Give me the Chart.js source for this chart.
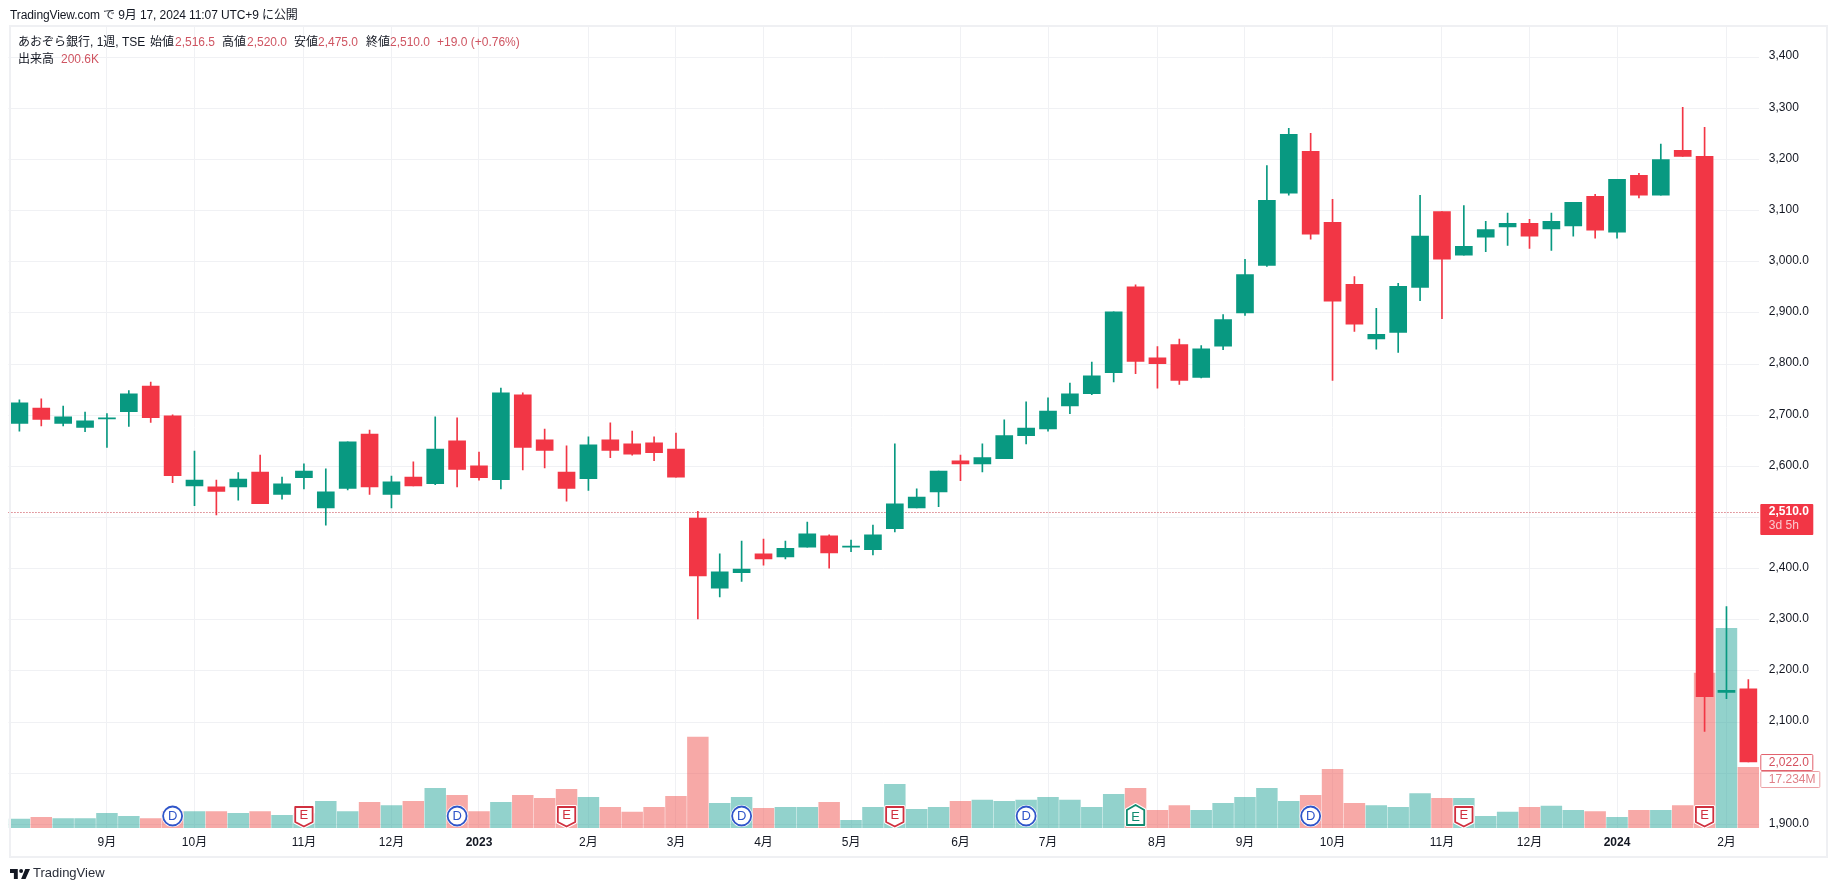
<!DOCTYPE html>
<html lang="ja">
<head>
<meta charset="utf-8">
<script src="https://cdn.jsdelivr.net/npm/chart.js@4/dist/chart.umd.min.js"></script>
<style>
html,body{margin:0;padding:0;background:#fff;width:1835px;height:891px;overflow:hidden;font-family:'Liberation Sans','Noto Sans CJK JP',sans-serif;color:#131722;}
#c{position:absolute;left:0;top:0;}
#frame{position:absolute;left:8.5px;top:25px;width:1815px;height:829px;border:2px solid #eff0f3;pointer-events:none;}
.t{position:absolute;font-size:12px;line-height:14px;white-space:pre;}
.v{color:#cf5562;}
#logo{position:absolute;left:10px;top:867px;width:20px;height:14px;}
</style>
</head>
<body>
<canvas id="c" width="1835" height="891"></canvas>
<div id="frame"></div>
<div class="t" style="left:10px;top:8px;letter-spacing:-0.1px">TradingView.com で 9月 17, 2024 11:07 UTC+9 に公開</div>
<div class="t" style="left:18px;top:35px">あおぞら銀行, 1週, TSE</div>
<div class="t" style="left:150px;top:35px">始値</div><div class="t v" style="left:175px;top:35px">2,516.5</div>
<div class="t" style="left:222px;top:35px">高値</div><div class="t v" style="left:247px;top:35px">2,520.0</div>
<div class="t" style="left:294px;top:35px">安値</div><div class="t v" style="left:318px;top:35px">2,475.0</div>
<div class="t" style="left:366px;top:35px">終値</div><div class="t v" style="left:390px;top:35px">2,510.0</div>
<div class="t v" style="left:437px;top:35px">+19.0 (+0.76%)</div>
<div class="t" style="left:18px;top:52px">出来高</div><div class="t v" style="left:61px;top:52px">200.6K</div>
<svg id="logo" viewBox="0 0 36 24"><path fill="#131722" d="M14 3H0v7h7v11h7V3Zm14 18h-8l7.5-18H36l-8 18Zm-8-11a3.5 3.5 0 1 0 0-7 3.5 3.5 0 0 0 0 7Z"/></svg>
<div class="t" style="left:33px;top:866px;font-size:13px;color:#2a2e39">TradingView</div>
<script>
const weeks = ['2022-08-08','2022-08-15','2022-08-22','2022-08-29','2022-09-05','2022-09-12','2022-09-19','2022-09-26','2022-10-03','2022-10-10','2022-10-17','2022-10-24','2022-10-31','2022-11-07','2022-11-14','2022-11-21','2022-11-28','2022-12-05','2022-12-12','2022-12-19','2022-12-26','2023-01-02','2023-01-09','2023-01-16','2023-01-23','2023-01-30','2023-02-06','2023-02-13','2023-02-20','2023-02-27','2023-03-06','2023-03-13','2023-03-20','2023-03-27','2023-04-03','2023-04-10','2023-04-17','2023-04-24','2023-05-01','2023-05-08','2023-05-15','2023-05-22','2023-05-29','2023-06-05','2023-06-12','2023-06-19','2023-06-26','2023-07-03','2023-07-10','2023-07-17','2023-07-24','2023-07-31','2023-08-07','2023-08-14','2023-08-21','2023-08-28','2023-09-04','2023-09-11','2023-09-18','2023-09-25','2023-10-02','2023-10-09','2023-10-16','2023-10-23','2023-10-30','2023-11-06','2023-11-13','2023-11-20','2023-11-27','2023-12-04','2023-12-11','2023-12-18','2023-12-25','2024-01-01','2024-01-08','2024-01-15','2024-01-22','2024-01-29','2024-02-05','2024-02-12'];
const opens = [2684,2714,2684,2676,2693,2707,2757,2699,2562,2560,2560,2589,2545,2578,2519,2557,2663,2545,2579,2566,2650,2601,2574,2740,2652,2589,2576,2652,2644,2646,2634,2499,2362,2392,2429,2423,2442,2464,2442,2437,2478,2519,2550,2611,2605,2615,2660,2673,2718,2742,2783,2951,2812,2838,2774,2835,2900,2993,3134,3216,3077,2956,2849,2862,2950,3098,3013,3048,3068,3075,3064,3070,3128,3058,3169,3130,3218,3206,2158,2165];
const highs = [2730,2732,2718,2706,2703,2748,2765,2701,2630,2573,2588,2622,2579,2605,2595,2648,2671,2581,2609,2697,2695,2628,2753,2744,2673,2640,2658,2685,2669,2658,2665,2512,2429,2454,2458,2454,2491,2466,2456,2485,2644,2556,2591,2622,2644,2691,2726,2734,2763,2804,2902,2955,2834,2849,2836,2897,3005,3188,3261,3251,3122,2971,2909,2958,3130,3098,3110,3079,3095,3083,3095,3116,3132,3161,3173,3230,3302,3263,2326,2183];
const lows = [2669,2679,2679,2668,2637,2678,2686,2568,2523,2505,2534,2527,2536,2556,2485,2554,2545,2519,2562,2564,2560,2573,2556,2593,2597,2532,2553,2617,2622,2611,2579,2302,2345,2375,2407,2419,2442,2401,2433,2427,2472,2519,2521,2572,2589,2615,2644,2669,2703,2740,2765,2781,2753,2760,2773,2828,2895,2991,3130,3044,2768,2864,2829,2823,2924,2889,3013,3020,3032,3026,3022,3050,3046,3046,3125,3130,3206,2082,2146,2022];
const closes = [2724,2692,2697,2689,2695,2742,2695,2582,2573,2551,2575,2527,2566,2591,2550,2648,2560,2570,2562,2634,2594,2578,2744,2637,2631,2557,2642,2631,2624,2627,2579,2386,2394,2399,2419,2440,2468,2431,2444,2466,2527,2540,2591,2605,2617,2660,2675,2708,2742,2777,2902,2805,2801,2768,2830,2887,2975,3120,3249,3054,2923,2878,2858,2952,3050,3005,3030,3063,3075,3050,3079,3116,3062,3161,3130,3200,3206,2150,2162,2022];
const volumes = [2.5,3.0,2.7,2.7,4.2,3.3,2.7,4.7,4.7,4.7,4.2,4.7,3.6,4.1,7.6,4.7,7.3,6.4,7.6,11.3,9.3,4.7,7.3,9.3,8.4,11.0,8.7,5.9,4.5,5.9,9.0,25.8,7.0,8.7,5.6,5.9,5.9,7.3,2.2,5.9,12.4,5.3,5.9,7.6,7.9,7.6,7.9,8.7,7.9,5.9,9.6,11.3,5.0,6.4,5.0,7.0,8.7,11.3,7.6,9.3,16.7,7.0,6.4,5.9,9.8,8.4,8.4,3.3,4.5,5.9,6.2,5.0,4.7,3.0,5.0,5.0,6.4,44.0,56.7,17.234];
const monthWeeks = [4,8,13,17,21,26,30,34,38,43,47,52,56,60,65,69,73,78];
const monthLabels = ['9月','10月','11月','12月','2023','2月','3月','4月','5月','6月','7月','8月','9月','10月','11月','12月','2024','2月'];
const priceTicks = [3400,3300,3200,3100,3000,2900,2800,2700,2600,2500,2400,2300,2200,2100,2000,1900];
const priceLabels = ['3,400','3,300','3,200','3,100','3,000.0','2,900.0','2,800.0','2,700.0','2,600.0','2,500.0','2,400.0','2,300.0','2,200.0','2,100.0','2,000.0','1,900.0'];
const dividendWeeks = [7,20,33,46,59];
const earningsMissWeeks = [13,25,40,66,77];
const earningsBeatWeeks = [51];
const lastPrice = 2510, cursorPrice = 2022;

const UP='#089981', DOWN='#F23645', VUP='rgba(38,166,154,0.5)', VDOWN='rgba(239,83,80,0.5)';
const FONT="'Liberation Sans','Noto Sans CJK JP',sans-serif";
const isUp = i => closes[i] >= opens[i];
const candleColors = weeks.map((_,i)=> isUp(i)?UP:DOWN);
const volColors = weeks.map((_,i)=> isUp(i)?VUP:VDOWN);

function roundRect(ctx,x,y,w,h,r){ctx.beginPath();ctx.roundRect(x,y,w,h,r);}

const overlay = {
  id:'overlay',
  beforeDatasetsDraw(chart){
    const {ctx,chartArea:a,scales:{y}}=chart;
    ctx.save();
    ctx.strokeStyle='#c8404c';ctx.lineWidth=1;ctx.setLineDash([1,2]);
    const py=Math.round(y.getPixelForValue(lastPrice))+0.5;
    ctx.beginPath();ctx.moveTo(a.left,py);ctx.lineTo(a.right,py);ctx.stroke();
    ctx.restore();
  },
  afterDatasetsDraw(chart){
    const {ctx,chartArea:a,scales:{x}}=chart;
    const cy=a.bottom-12;
    ctx.save();
    ctx.textAlign='center';ctx.textBaseline='middle';
    const blue='#2f55c9',red='#d0303f',green='#0f8a6f';
    dividendWeeks.forEach(i=>{
      const px=x.getPixelForValue(i);
      ctx.beginPath();ctx.arc(px,cy,11,0,7);ctx.fillStyle='#fff';ctx.fill();
      ctx.beginPath();ctx.arc(px,cy,9.5,0,7);ctx.strokeStyle=blue;ctx.lineWidth=1.8;ctx.stroke();
      ctx.fillStyle=blue;ctx.font='13px '+FONT;ctx.fillText('D',px,cy+0.5);
    });
    const shield=(px,down,col)=>{
      const w=8.7,pts=down
        ?[[-w,-9],[w,-9],[w,6],[0,10.5],[-w,6]]
        :[[0,-11],[w,-6],[w,9],[-w,9],[-w,-6]];
      const path=()=>{ctx.beginPath();pts.forEach((p,k)=>k?ctx.lineTo(px+p[0],cy+p[1]):ctx.moveTo(px+p[0],cy+p[1]));ctx.closePath();};
      path();ctx.lineJoin='round';ctx.strokeStyle='#fff';ctx.lineWidth=4;ctx.stroke();ctx.fillStyle='#fff';ctx.fill();
      path();ctx.strokeStyle=col;ctx.lineWidth=1.8;ctx.stroke();
      ctx.fillStyle=col;ctx.font='13px '+FONT;ctx.fillText('E',px,cy+(down?-0.5:1));
    };
    earningsMissWeeks.forEach(i=>shield(x.getPixelForValue(i),true,red));
    earningsBeatWeeks.forEach(i=>shield(x.getPixelForValue(i),false,green));
    ctx.restore();
  },
  afterDraw(chart){
    const {ctx,chartArea:a,scales:{y}}=chart;
    ctx.save();
    ctx.textBaseline='middle';ctx.textAlign='left';
    const L=a.right+1, W=53, tx=a.right+9.5;
    const py=y.getPixelForValue(lastPrice);
    ctx.fillStyle=DOWN;roundRect(ctx,L,py-8.5,W,31,1);ctx.fill();
    ctx.font='bold 12px '+FONT;ctx.fillStyle='#fff';ctx.fillText('2,510.0',tx,py-0.5);
    ctx.font='12px '+FONT;ctx.fillStyle='#fbc9ce';ctx.fillText('3d 5h',tx,py+13.5);
    const cp=y.getPixelForValue(cursorPrice);
    ctx.fillStyle='#fff';ctx.strokeStyle='#e2606c';ctx.lineWidth=1;
    roundRect(ctx,L+0.5,cp-7.5,W-1,16,1);ctx.fill();ctx.stroke();
    ctx.fillStyle='#d4505e';ctx.font='12px '+FONT;ctx.fillText('2,022.0',tx,cp+1);
    ctx.fillStyle='#fff';ctx.strokeStyle='#eca0a4';
    roundRect(ctx,L+0.5,cp+9.5,59,16,1);ctx.fill();ctx.stroke();
    ctx.fillStyle='#e08088';ctx.fillText('17.234M',tx,cp+18);
    ctx.restore();
  }
};

new Chart(document.getElementById('c'),{
  type:'bar',
  data:{labels:weeks,datasets:[
    {label:'出来高',yAxisID:'v',data:volumes,backgroundColor:volColors,barThickness:20.8,order:3},
    {label:'ヒゲ',yAxisID:'y',data:weeks.map((_,i)=>[lows[i],highs[i]]),backgroundColor:candleColors,barThickness:1,order:2},
    {label:'実体',yAxisID:'y',data:weeks.map((_,i)=>[opens[i],closes[i]]),backgroundColor:candleColors,barThickness:17,minBarLength:1,order:1}
  ]},
  options:{
    responsive:false,animation:false,devicePixelRatio:1,
    layout:{padding:{left:8.46,right:0,top:27,bottom:0}},
    datasets:{bar:{grouped:false,borderWidth:0,borderSkipped:false}},
    plugins:{legend:{display:false},tooltip:{enabled:false}},
    scales:{
      x:{
        type:'category',offset:true,
        grid:{offset:false,color:'#f0f1f4',drawTicks:false},
        border:{display:false},
        afterBuildTicks:s=>{s.ticks=monthWeeks.map(v=>({value:v}));},
        afterFit:s=>{s.height=63;},
        ticks:{
          autoSkip:false,maxRotation:0,minRotation:0,padding:7,color:'#131722',
          callback:v=>monthLabels[monthWeeks.indexOf(v)],
          font:c=>({family:FONT,size:12,weight:(c.tick&&monthWeeks.indexOf(c.tick.value)>=0&&/^20/.test(monthLabels[monthWeeks.indexOf(c.tick.value)]))?'bold':'normal'})
        }
      },
      y:{
        type:'linear',position:'right',min:1893,max:3459,
        grid:{color:'#f0f1f4',drawTicks:false},
        border:{display:false},
        afterBuildTicks:s=>{s.ticks=priceTicks.map(v=>({value:v}));},
        afterFit:s=>{s.width=75.7;},
        ticks:{
          autoSkip:false,crossAlign:'near',padding:9.5,labelOffset:-1,color:'#131722',font:{family:FONT,size:12},
          callback:v=>priceLabels[priceTicks.indexOf(v)]
        }
      },
      v:{type:'linear',display:false,min:0,max:227.6}
    }
  },
  plugins:[overlay]
});
</script>
</body>
</html>
